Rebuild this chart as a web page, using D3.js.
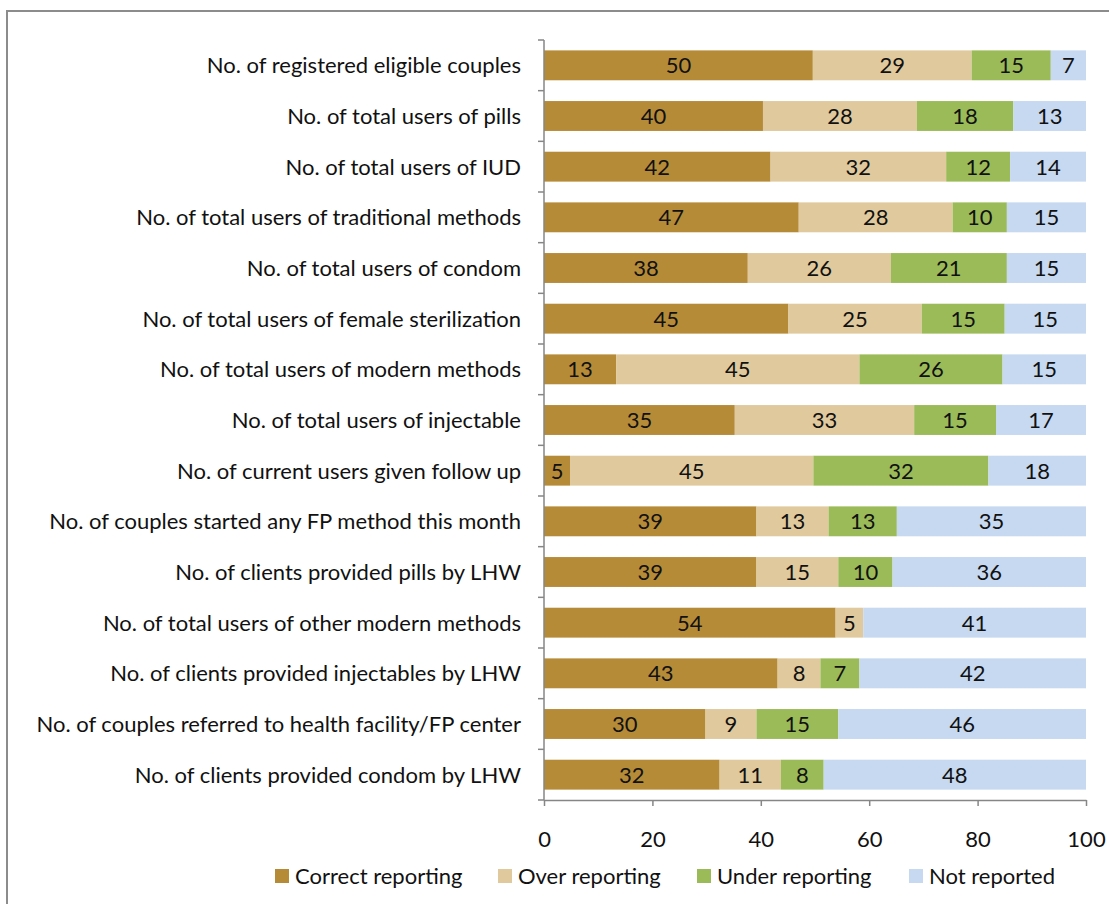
<!DOCTYPE html>
<html>
<head>
<meta charset="utf-8">
<script src="https://cdn.jsdelivr.net/npm/d3@7"></script>
<style>
  body { margin: 0; background: #fff; }
  svg { display: block; }
</style>
</head>
<body>
<svg id="chart" width="1109" height="904"></svg>
<script>
const categories = [
  'No. of registered eligible couples',
  'No. of total users of pills',
  'No. of total users of IUD',
  'No. of total users of traditional methods',
  'No. of total users of condom',
  'No. of total users of female sterilization',
  'No. of total users of modern methods',
  'No. of total users of injectable',
  'No. of current users given follow up',
  'No. of couples started any FP method this month',
  'No. of clients provided pills by LHW',
  'No. of total users of other modern methods',
  'No. of clients provided injectables by LHW',
  'No. of couples referred to health facility/FP center',
  'No. of clients provided condom by LHW'
];

const seriesNames = ['Correct reporting', 'Over reporting', 'Under reporting', 'Not reported'];
const correct = [49.6, 40.4, 41.8, 47.0, 37.6, 45.1, 13.3, 35.2, 4.8, 39.2, 39.2, 53.8, 43.1, 29.8, 32.4];
const over    = [29.3, 28.4, 32.4, 28.4, 26.4, 24.6, 44.9, 33.1, 44.9, 13.3, 15.1, 5.1, 7.9, 9.4, 11.3];
const under   = [14.6, 17.8, 11.8, 10.0, 21.4, 15.3, 26.4, 15.1, 32.3, 12.6, 10.0, 0, 7.2, 15.1, 7.9];
const notRep  = [6.5, 13.4, 14.0, 14.6, 14.6, 15.0, 15.4, 16.6, 18.0, 34.9, 35.7, 41.1, 41.8, 45.7, 48.4];
const xTicks = [0, 20, 40, 60, 80, 100];
const colors = ['#b68b38', '#e0c99d', '#9bbb59', '#c6d9f1'];

const rows = categories.map((c, i) => ({
  cat: c,
  'Correct reporting': correct[i],
  'Over reporting': over[i],
  'Under reporting': under[i],
  'Not reported': notRep[i]
}));

const svg = d3.select('#chart');
const font = 'Lato, "Open Sans", sans-serif';
const fs = '22px';

// outer frame
svg.append('rect')
  .attr('x', 7).attr('y', 11)
  .attr('width', 1140).attr('height', 940)
  .attr('fill', 'none')
  .attr('stroke', '#8c8c8c')
  .attr('stroke-width', 2);

const plotLeft = 544, plotRight = 1086, plotTop = 40, plotBottom = 800;

const x = d3.scaleLinear().domain([0, 100]).range([plotLeft, plotRight]);
const y = d3.scaleBand().domain(categories).range([plotTop, plotBottom]).paddingInner(0.41).paddingOuter(0.205);
const color = d3.scaleOrdinal().domain(seriesNames).range(colors);

const stacked = d3.stack().keys(seriesNames)(rows);
const fmt = d3.format('.0f');

const layer = svg.append('g')
  .selectAll('g')
  .data(stacked)
  .join('g')
  .attr('fill', d => color(d.key));

layer.selectAll('rect')
  .data(d => d.filter(s => s[1] - s[0] > 0))
  .join('rect')
  .attr('x', d => x(d[0]))
  .attr('y', d => y(d.data.cat))
  .attr('width', d => x(d[1]) - x(d[0]))
  .attr('height', y.bandwidth());

layer.selectAll('text')
  .data(d => d.filter(s => s[1] - s[0] > 0))
  .join('text')
  .attr('x', d => (x(d[0]) + x(d[1])) / 2)
  .attr('y', d => y(d.data.cat) + y.bandwidth() / 2)
  .attr('dy', '0.36em')
  .attr('text-anchor', 'middle')
  .attr('fill', '#111')
  .style('font', `${fs} ${font}`)
  .text(d => fmt(d[1] - d[0]));

// axes
const axisColor = '#868686';
const step = (plotBottom - plotTop) / categories.length;

const yAxis = svg.append('g');
yAxis.append('line')
  .attr('x1', plotLeft).attr('x2', plotLeft)
  .attr('y1', plotTop).attr('y2', plotBottom)
  .attr('stroke', axisColor).attr('stroke-width', 1.5);
yAxis.selectAll('line.tick')
  .data(d3.range(categories.length + 1))
  .join('line')
  .attr('class', 'tick')
  .attr('x1', plotLeft - 6).attr('x2', plotLeft)
  .attr('y1', i => plotTop + i * step).attr('y2', i => plotTop + i * step)
  .attr('stroke', axisColor).attr('stroke-width', 1.5);
yAxis.selectAll('text')
  .data(categories)
  .join('text')
  .attr('x', plotLeft - 23)
  .attr('y', d => y(d) + y.bandwidth() / 2)
  .attr('dy', '0.36em')
  .attr('text-anchor', 'end')
  .attr('fill', '#111')
  .style('font', `${fs} ${font}`)
  .text(d => d);

const xAxis = svg.append('g')
  .attr('transform', `translate(0,${plotBottom})`)
  .call(d3.axisBottom(x).tickValues(xTicks).tickSize(6).tickSizeOuter(0).tickPadding(25));
xAxis.select('.domain').attr('stroke', axisColor).attr('stroke-width', 1.5);
xAxis.selectAll('.tick line').attr('stroke', axisColor).attr('stroke-width', 1.5);
xAxis.selectAll('.tick text')
  .attr('fill', '#111')
  .style('font', `${fs} ${font}`);

// legend
const legendX = [275, 498, 697, 909];
const legend = svg.append('g')
  .selectAll('g')
  .data(seriesNames)
  .join('g')
  .attr('transform', (d, i) => `translate(${legendX[i]},876)`);
legend.append('rect')
  .attr('x', 0).attr('y', -7)
  .attr('width', 14).attr('height', 14)
  .attr('fill', d => color(d));
legend.append('text')
  .attr('x', 20).attr('dy', '0.36em')
  .attr('fill', '#111')
  .style('font', `${fs} ${font}`)
  .text(d => d);
</script>
</body>
</html>
